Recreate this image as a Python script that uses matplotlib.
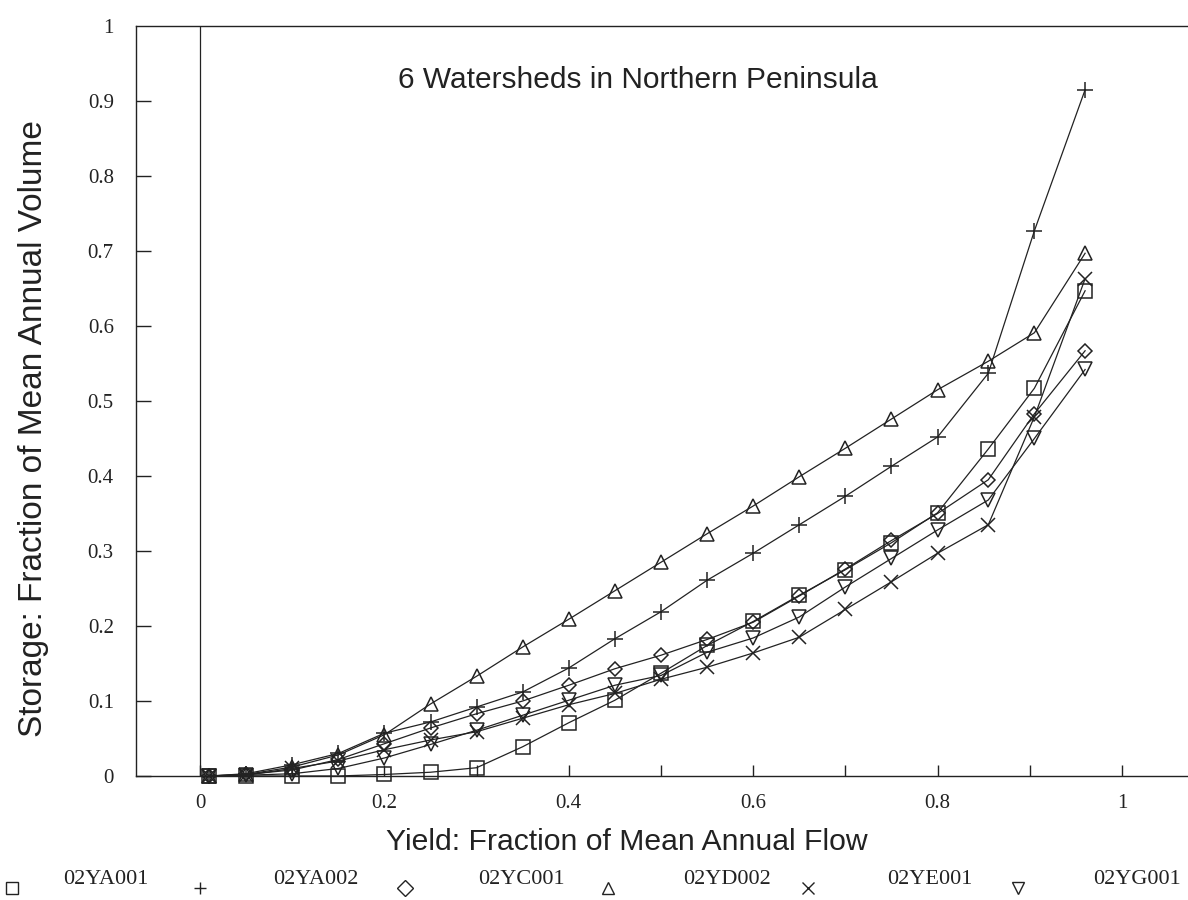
import matplotlib
matplotlib.use("Agg")
import matplotlib.pyplot as plt
from matplotlib.lines import Line2D

# ======== Data ========

yield_frac = [0.01, 0.05, 0.10, 0.15, 0.20, 0.25, 0.30, 0.35, 0.40, 0.45,
              0.50, 0.55, 0.60, 0.65, 0.70, 0.75, 0.80, 0.855, 0.905, 0.96]

ya001 = [0.0, 0.0, 0.0, 0.0, 0.002, 0.005, 0.011, 0.039, 0.071, 0.101,
         0.137, 0.174, 0.206, 0.241, 0.275, 0.311, 0.351, 0.436, 0.517, 0.647]
ya002 = [0.0, 0.003, 0.015, 0.03, 0.057, 0.072, 0.092, 0.112, 0.144, 0.183,
         0.219, 0.261, 0.297, 0.335, 0.373, 0.413, 0.452, 0.537, 0.727, 0.915]
yc001 = [0.0, 0.002, 0.008, 0.022, 0.043, 0.064, 0.083, 0.100, 0.121, 0.143,
         0.161, 0.182, 0.205, 0.240, 0.276, 0.314, 0.350, 0.395, 0.483, 0.567]
yd002 = [0.0, 0.002, 0.012, 0.028, 0.055, 0.096, 0.133, 0.172, 0.209, 0.247,
         0.285, 0.323, 0.360, 0.399, 0.437, 0.476, 0.515, 0.553, 0.591, 0.697]
ye001 = [0.0, 0.001, 0.010, 0.020, 0.035, 0.048, 0.059, 0.077, 0.095, 0.110,
         0.129, 0.145, 0.164, 0.185, 0.222, 0.259, 0.297, 0.335, 0.479, 0.663]
yg001 = [0.0, 0.001, 0.003, 0.010, 0.024, 0.042, 0.061, 0.081, 0.101, 0.121,
         0.134, 0.165, 0.184, 0.212, 0.252, 0.290, 0.328, 0.368, 0.450, 0.542]

station_names = ["02YA001", "02YA002", "02YC001", "02YD002", "02YE001", "02YG001"]
station_values = [ya001, ya002, yc001, yd002, ye001, yg001]
station_markers = ["s", "+", "D", "^", "x", "v"]
marker_sizes = [10, 11, 7.5, 10, 10, 10]

x_ticks = [0, 0.2, 0.4, 0.6, 0.8, 1.0]
x_tick_labels = ["0", "0.2", "0.4", "0.6", "0.8", "1"]
y_ticks = [0, 0.1, 0.2, 0.3, 0.4, 0.5, 0.6, 0.7, 0.8, 0.9, 1.0]
y_tick_labels = ["0", "0.1", "0.2", "0.3", "0.4", "0.5", "0.6", "0.7", "0.8", "0.9", "1"]

SERIF = ["Liberation Serif", "DejaVu Serif"]
SANS = ["Liberation Sans", "DejaVu Sans"]
INK = "#222222"

# legend key layout along the bottom edge (figure pixels)
FIG_W, FIG_H = 1188, 900
KEY_MARKER_X = [12, 200, 405, 608, 808, 1018]
KEY_TEXT_X = [63, 273, 478, 683, 887, 1093]
KEY_MARKER_Y = 888
KEY_TEXT_Y = 880


def main():
    fig = plt.figure(figsize=(FIG_W / 100, FIG_H / 100), dpi=100)
    ax = fig.add_axes([0.1145, 0.1378, 0.8855, 0.8333])

    for vals, mk, ms in zip(station_values, station_markers, marker_sizes):
        ax.plot(yield_frac, vals, color=INK, linewidth=0.9, marker=mk,
                markersize=ms, markerfacecolor="none", markeredgecolor=INK,
                markeredgewidth=1.1, clip_on=False, zorder=3)

    # y axis line at x = 0
    ax.axvline(0, color=INK, linewidth=0.9, zorder=2)

    ax.set_xlim(-0.0694, 1.0716)
    ax.set_ylim(0, 1)

    ax.spines["right"].set_visible(False)
    for side in ("left", "bottom", "top"):
        ax.spines[side].set_linewidth(1.0)
        ax.spines[side].set_color(INK)

    ax.set_xticks(x_ticks)
    ax.set_xticklabels(x_tick_labels, fontfamily=SERIF, fontsize=15)
    ax.set_xticks([0.1, 0.3, 0.5, 0.7, 0.9], minor=True)
    ax.set_yticks(y_ticks)
    ax.set_yticklabels(y_tick_labels, fontfamily=SERIF, fontsize=15)
    ax.tick_params(axis="x", which="both", direction="in", length=8, width=1.0,
                   pad=13, colors=INK)
    ax.tick_params(axis="y", direction="in", length=11, width=1.0, pad=16,
                   colors=INK)
    ax.get_yticklines()[-2].set_visible(False)

    ax.set_xlabel("Yield: Fraction of Mean Annual Flow", fontfamily=SANS,
                  fontsize=21.7, color=INK)
    ax.xaxis.set_label_coords(0.467, -0.069)
    ax.set_ylabel("Storage: Fraction of Mean Annual Volume", fontfamily=SANS,
                  fontsize=24, color=INK)
    ax.yaxis.set_label_coords(-0.083, 0.463)

    ax.text(0.477, 0.928, "6 Watersheds in Northern Peninsula", transform=ax.transAxes,
            ha="center", va="center", fontfamily=SANS, fontsize=21.5, color=INK)

    # Legend keys: marker symbol followed by station name
    for name, mk, mx, tx in zip(station_names, station_markers, KEY_MARKER_X, KEY_TEXT_X):
        fig.add_artist(Line2D([mx / FIG_W], [1 - KEY_MARKER_Y / FIG_H],
                              transform=fig.transFigure, linestyle="none", marker=mk,
                              markersize=8, markerfacecolor="none",
                              markeredgecolor=INK, markeredgewidth=1.0))
        fig.text(tx / FIG_W, 1 - KEY_TEXT_Y / FIG_H, name, ha="left", va="center",
                 fontfamily=SERIF, fontsize=16, color=INK)

    fig.savefig("out.png", dpi=100)


if __name__ == "__main__":
    main()
